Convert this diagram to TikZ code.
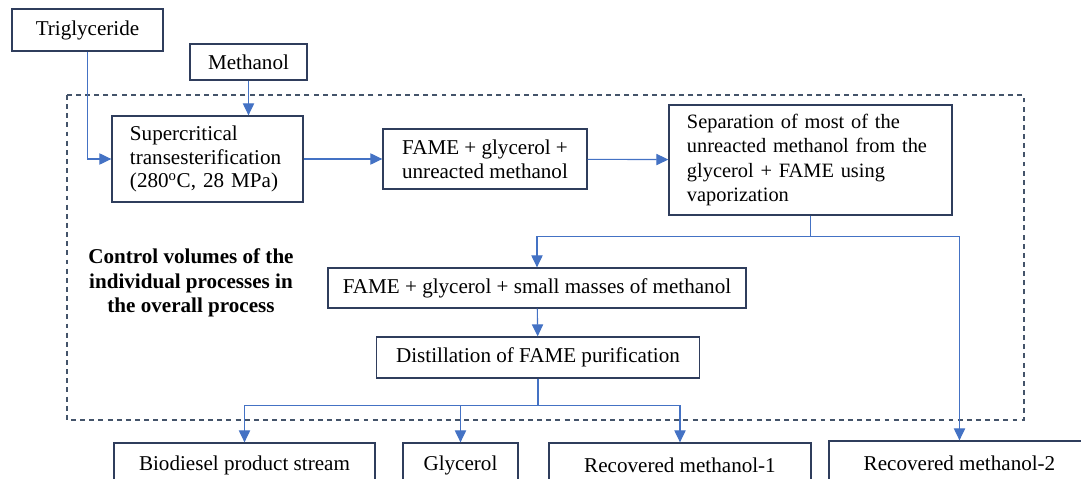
\documentclass[tikz,border=0pt]{standalone}
\usepackage{fontspec}
\setmainfont{Liberation Serif}
\usepackage{xcolor}
\usepackage{tikz}
\usetikzlibrary{positioning,arrows.meta,calc}
\definecolor{boxline}{HTML}{2F3D5C}
\definecolor{flow}{HTML}{4472C4}
\definecolor{cvline}{HTML}{44546A}

\begin{document}
\begin{tikzpicture}[x=0.025cm,y=-0.025cm,
  box/.style={draw=boxline,line width=0.9pt,fill=white,align=center,
              font=\fontsize{15}{17}\selectfont,inner sep=0pt},
  lbox/.style={box,align=left,inner xsep=0.45cm},
  outbox/.style={box,minimum height=1.1cm},
  arr/.style={-{Triangle[length=8.5pt,width=8pt]},line width=0.8pt,draw=flow},
  note/.style={align=center,font=\fontsize{15}{17.5}\selectfont\bfseries}]
\useasboundingbox (0,0) rectangle (1081,479);
\clip (0,0) rectangle (1081,479);
% control volume
\draw[cvline,line width=0.9pt,dash pattern=on 3.5pt off 3pt] (67,95) rectangle (1024,420);
% feeds
\node[box,minimum width=3.775cm,minimum height=1.05cm] (tri)  at (87.5,30)  {Triglyceride};
\node[box,minimum width=2.925cm,minimum height=0.9cm]  (meoh) at (248.5,62) {Methanol};
% reaction and separation
\node[lbox,text width=3.875cm,minimum height=2.15cm] (sc) at (207.5,159)
  {Supercritical\\transesterification\\(280\textsuperscript{o}C, 28 MPa)};
\node[box,minimum width=5.1cm,minimum height=1.5cm] (fame) at (485,159)
  {FAME + glycerol +\\unreacted methanol};
\node[lbox,text width=6.175cm,minimum height=2.75cm,font=\fontsize{14.5}{17.2}\selectfont] (sep) at (810.5,160)
  {Separation of most of the\\unreacted methanol from the\\glycerol + FAME using\\vaporization};
\node[box,minimum width=10.45cm,minimum height=1.0cm] (fame2) at (537,288)
  {FAME + glycerol + small masses of methanol};
\node[box,minimum width=8.075cm,minimum height=1.025cm] (dist) at (538,357.5)
  {Distillation of FAME purification};
\node[note] (cvlabel) at (191,283)
  {Control volumes of the\\individual processes in\\the overall process};
% products
\node[outbox,minimum width=6.525cm] (bio) at (244.5,465) {Biodiesel product stream};
\node[outbox,minimum width=2.875cm] (gly) at (460.5,465) {Glycerol};
\node[outbox,minimum width=6.55cm]  (rm1) at (680,465)   {Recovered methanol-1};
\node[outbox,minimum width=6.525cm] (rm2) at (959.5,463) {Recovered methanol-2};
% flows
\draw[arr] (tri.south) |- (sc.west);
\draw[arr] (meoh.south) -- (meoh.south |- sc.north);
\draw[arr] (sc) -- (fame);
\draw[arr] (fame) -- (sep);
\draw[arr] (sep.south) -- ++(0,21) -| (fame2.north);
\draw[arr] (sep.south) -- ++(0,21) -| (rm2.north);
\draw[arr] (fame2) -- (dist);
\draw[arr] (dist.south) -- ++(0,27) -| (bio.north);
\draw[arr] (dist.south) -- ++(0,27) -| (gly.north);
\draw[arr] (dist.south) -- ++(0,27) -| (rm1.north);
\end{tikzpicture}
\end{document}
